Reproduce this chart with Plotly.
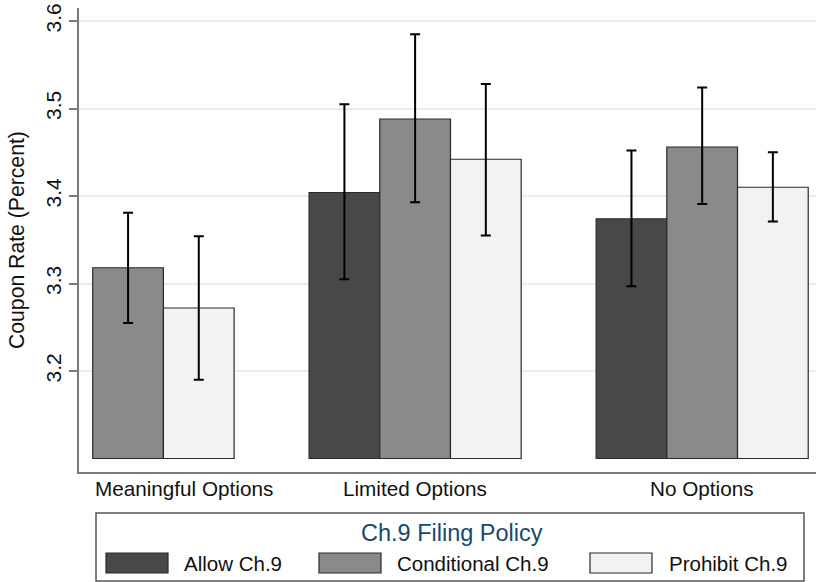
import plotly.graph_objects as go

# ---------------- data ----------------
groups = ["Meaningful Options", "Limited Options", "No Options"]
series = ["Allow Ch.9", "Conditional Ch.9", "Prohibit Ch.9"]

allow_mean = [None, 3.404, 3.374]
allow_lo = [None, 3.305, 3.297]
allow_hi = [None, 3.505, 3.452]

cond_mean = [3.318, 3.488, 3.456]
cond_lo = [3.255, 3.393, 3.391]
cond_hi = [3.381, 3.585, 3.524]

proh_mean = [3.272, 3.442, 3.410]
proh_lo = [3.190, 3.355, 3.371]
proh_hi = [3.354, 3.528, 3.450]

y_ticks = [3.2, 3.3, 3.4, 3.5, 3.6]
bar_base = 3.1

legend_title = "Ch.9 Filing Policy"
y_title = "Coupon Rate (Percent)"

# ---------------- style / layout ----------------
colors = ["#484848", "#8a8a8a", "#f2f2f2"]
FONT = "Liberation Sans, Arial, sans-serif"
W, H = 816, 582
ML, MR, MT, MB = 79, 0, 8, 110
PW, PH = W - ML - MR, H - MT - MB
LEFT_PAD, GAP, RIGHT_PAD = 0.194, 1.06, 0.11
Y_RANGE = [3.6 - (472 - 21) / 875.0, 3.6 + (21 - 8) / 875.0]

means = [allow_mean, cond_mean, proh_mean]
los = [allow_lo, cond_lo, proh_lo]
his = [allow_hi, cond_hi, proh_hi]

# bar positions from group structure (missing bars are dropped)
pos = {}
spans = []
start = LEFT_PAD
for g in range(len(groups)):
    present = [s for s in range(len(series)) if means[s][g] is not None]
    for k, s in enumerate(present):
        pos[(s, g)] = start + k + 0.5
    spans.append((start, start + len(present)))
    start += len(present) + GAP
x_max = start - GAP + RIGHT_PAD

fig = go.Figure()
for s, name in enumerate(series):
    xs, ys, ep, em, cd = [], [], [], [], []
    for g in range(len(groups)):
        m = means[s][g]
        if m is None:
            continue
        xs.append(pos[(s, g)])
        ys.append(m - bar_base)
        ep.append(his[s][g] - m)
        em.append(m - los[s][g])
        cd.append([groups[g], m, los[s][g], his[s][g]])
    fig.add_trace(go.Bar(
        x=xs, y=ys, base=bar_base, width=1.0, name=name,
        marker=dict(color=colors[s], line=dict(color="#2a2a2a", width=1.2)),
        error_y=dict(type="data", symmetric=False, array=ep, arrayminus=em,
                     color="#000000", thickness=2, width=5),
        customdata=cd,
        hovertemplate="%{customdata[0]}<br>" + name +
                      ": %{customdata[1]:.3f}<br>CI: %{customdata[2]:.3f}–%{customdata[3]:.3f}<extra></extra>",
        showlegend=False,
    ))

def px_x(px):
    return (px - ML) / PW

def px_y(py):
    return (H - MB - py) / PH

annotations = []
# group labels
for g, name in enumerate(groups):
    a, b = spans[g]
    if g == 0:
        ax, anchor = a, "left"
    else:
        ax, anchor = (a + b) / 2, "center"
    annotations.append(dict(
        x=ax, xref="x", y=px_y(489), yref="paper", text=name, showarrow=False,
        xanchor=anchor, yanchor="middle", font=dict(family=FONT, size=20.7, color="#111111")))

# y-axis title
annotations.append(dict(
    x=px_x(17), xref="paper", y=0.5, yref="paper", text=y_title, textangle=-90,
    showarrow=False, xanchor="center", yanchor="middle",
    font=dict(family=FONT, size=21.2, color="#111111")))

# manual legend
shapes = [dict(type="rect", xref="paper", yref="paper",
               x0=px_x(96), x1=px_x(804), y0=px_y(513), y1=px_y(581),
               line=dict(color="#555555", width=1.5), fillcolor="white", layer="below")]
annotations.append(dict(
    x=px_x(452), xref="paper", y=px_y(533), yref="paper", text=legend_title,
    showarrow=False, xanchor="center", yanchor="middle",
    font=dict(family=FONT, size=23.5, color="#1a476f")))
sw_left = [106, 319, 590]
txt_left = [182, 395, 667]
for s, name in enumerate(series):
    shapes.append(dict(type="rect", xref="paper", yref="paper",
                       x0=px_x(sw_left[s]), x1=px_x(sw_left[s] + 62),
                       y0=px_y(553), y1=px_y(573),
                       fillcolor=colors[s], line=dict(color="#2a2a2a", width=1.2)))
    annotations.append(dict(
        x=px_x(txt_left[s]), xref="paper", y=px_y(563), yref="paper", text=name,
        showarrow=False, xanchor="left", yanchor="middle",
        font=dict(family=FONT, size=20.5, color="#111111")))

fig.update_layout(
    width=W, height=H,
    margin=dict(l=ML, r=MR, t=MT, b=MB, pad=0),
    paper_bgcolor="white", plot_bgcolor="white",
    barmode="overlay",
    font=dict(family=FONT, size=20, color="#111111"),
    xaxis=dict(range=[0, x_max], showticklabels=False, ticks="", showgrid=False,
               zeroline=False, showline=True, linecolor="#7a7a7a", linewidth=1.8,
               fixedrange=True),
    yaxis=dict(range=Y_RANGE, tickvals=y_ticks, ticktext=[f"{v:.1f}" for v in y_ticks],
               tickangle=-90, ticks="outside", ticklen=8, tickwidth=1.5, tickcolor="#7a7a7a",
               showline=True, linecolor="#7a7a7a", linewidth=1.8,
               showgrid=True, gridcolor="#e6eef0", gridwidth=1.5, zeroline=False,
               tickfont=dict(family=FONT, size=21, color="#111111"), fixedrange=True),
    annotations=annotations, shapes=shapes,
    showlegend=False,
)

fig.write_html("out.html",
               config={"displayModeBar": False},
               post_script="document.body.style.margin='0';document.body.style.overflow='hidden';")
